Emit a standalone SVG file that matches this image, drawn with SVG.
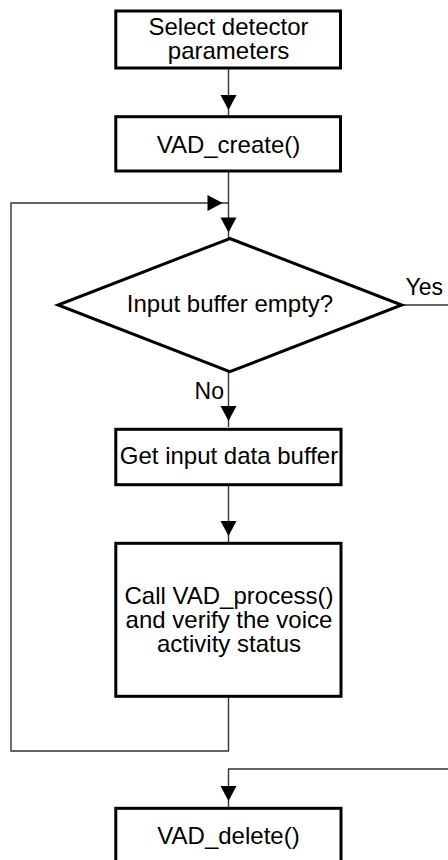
<svg xmlns="http://www.w3.org/2000/svg" width="448" height="860" viewBox="0 0 448 860">
  <defs>
    <style>
      .box { fill: #ffffff; stroke: #000000; stroke-width: 3; }
      .lbl { font-family: "Liberation Sans", Arial, sans-serif; font-size: 24px; fill: #000000; text-anchor: middle; }
      .edge { font-family: "Liberation Sans", Arial, sans-serif; font-size: 23px; fill: #000000; }
      .conn { fill: none; stroke: #333333; stroke-width: 1.4; }
    </style>
    <marker id="arrow" markerUnits="userSpaceOnUse" markerWidth="22" markerHeight="16" refX="21" refY="8" orient="auto" overflow="visible">
      <path d="M0,0 L15,8 L0,16 Z" fill="#000000"/>
    </marker>
  </defs>
  <rect width="448" height="860" fill="#ffffff"/>

  <g id="connectors">
    <path class="conn" d="M228.5,68 V116" marker-end="url(#arrow)"/>
    <path class="conn" d="M228.5,171 V238.5" marker-end="url(#arrow)"/>
    <path class="conn" d="M228.5,696 V751 H11 V203 H228.5" marker-end="url(#arrow)"/>
    <path class="conn" d="M401.7,305 H448"/>
    <path class="conn" d="M228.5,372 V427" marker-end="url(#arrow)"/>
    <path class="conn" d="M228.5,485 V542" marker-end="url(#arrow)"/>
    <path class="conn" d="M448,769 H228.5 V807" marker-end="url(#arrow)"/>
    <text class="edge" x="405.5" y="295">Yes</text>
    <text class="edge" x="224" y="398.5" text-anchor="end">No</text>
  </g>

  <g id="select-params">
    <rect class="box" x="115.8" y="11" width="224.7" height="57"/>
    <text class="lbl" x="228.5" y="35">Select detector</text>
    <text class="lbl" x="228.5" y="59">parameters</text>
  </g>

  <g id="vad-create">
    <rect class="box" x="115.8" y="116.7" width="224.7" height="54.3"/>
    <text class="lbl" x="228.5" y="152.5">VAD_create()</text>
  </g>

  <g id="buffer-empty">
    <polygon class="box" points="229.8,238.5 401.7,305 229.8,371.7 58,305"/>
    <text class="lbl" x="230" y="312">Input buffer empty?</text>
  </g>

  <g id="get-buffer">
    <rect class="box" x="115.8" y="429.3" width="225.2" height="55.4"/>
    <text class="lbl" x="229" y="464">Get input data buffer</text>
  </g>

  <g id="vad-process">
    <rect class="box" x="115.8" y="543.3" width="225.2" height="153"/>
    <text class="lbl" x="229" y="604">Call VAD_process()</text>
    <text class="lbl" x="229" y="628">and verify the voice</text>
    <text class="lbl" x="229" y="652">activity status</text>
  </g>

  <g id="vad-delete">
    <rect class="box" x="115.8" y="808.3" width="225.2" height="57"/>
    <text class="lbl" x="228.5" y="844">VAD_delete()</text>
  </g>
</svg>
